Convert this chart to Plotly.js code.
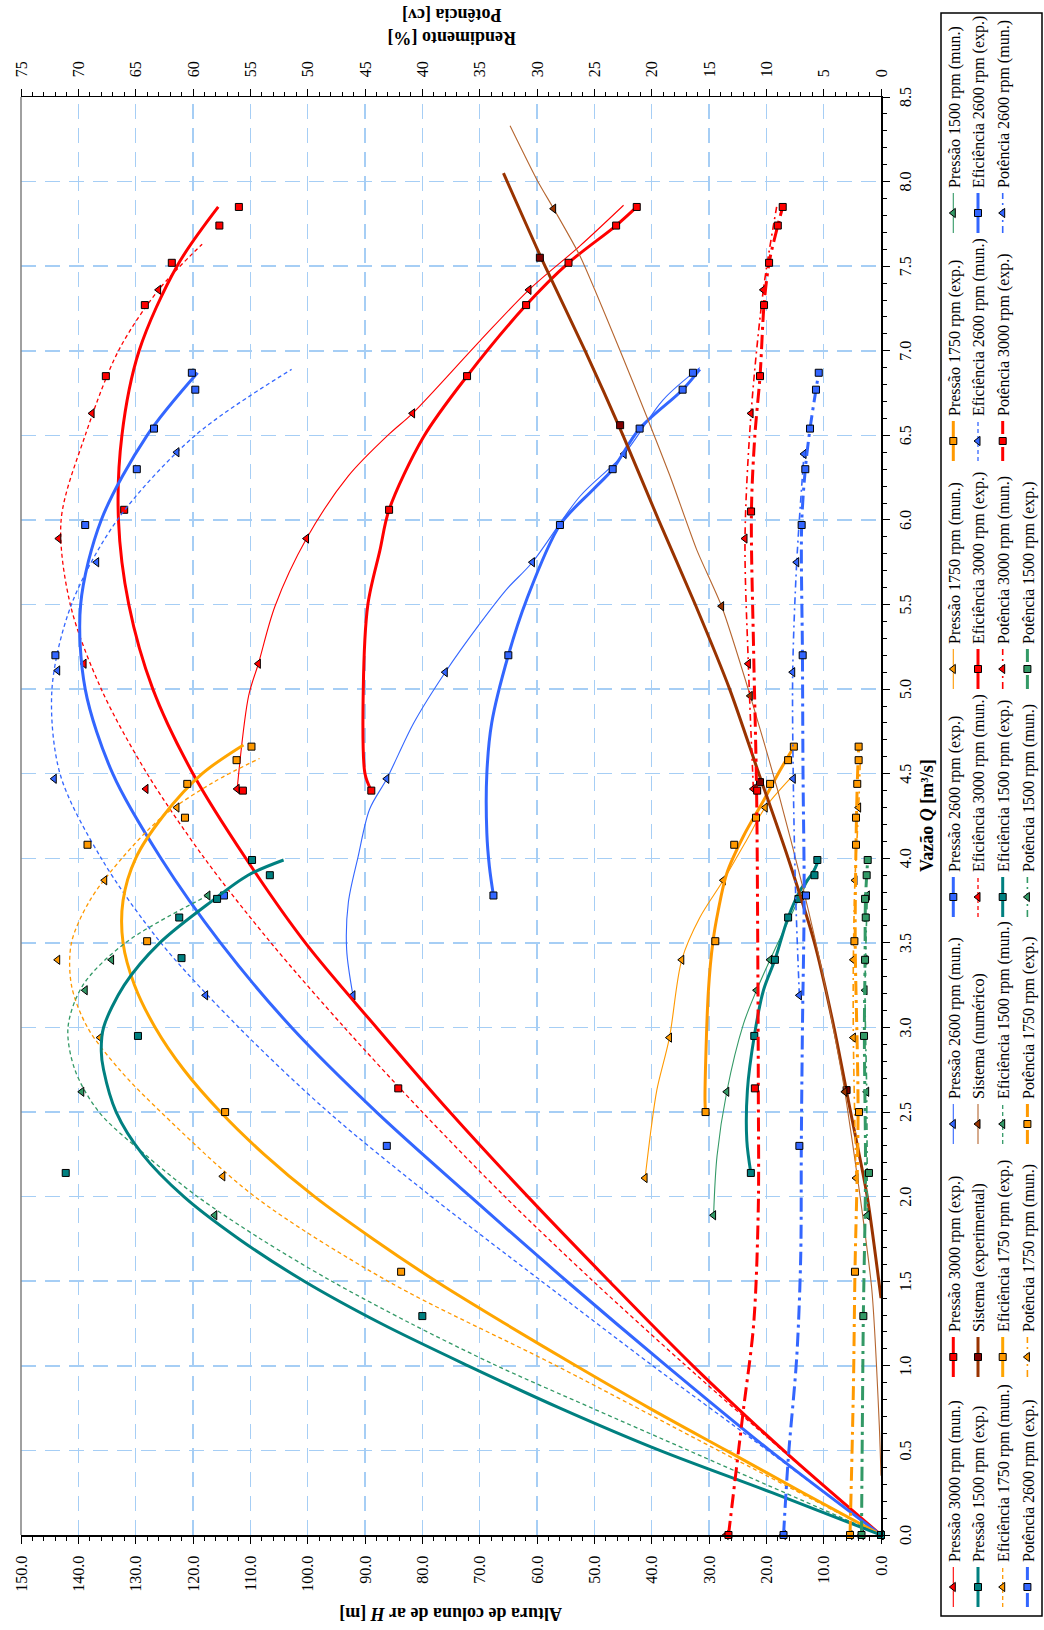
<!DOCTYPE html>
<html>
<head>
<meta charset="utf-8">
<script src="https://cdn.plot.ly/plotly-3.0.1.min.js"></script>
<style>
  html, body { margin: 0; padding: 0; background: #fff; overflow: hidden; width: 1044px; height: 1630px; }
  /* the chart is laid out in landscape and turned a quarter turn to stand upright */
  #chart { position: absolute; left: 0; top: 0; width: 1630px; height: 1044px;
           transform-origin: 0 0; transform: translate(0px, 1630px) rotate(-90deg); }
</style>
</head>
<body>
<div id="chart"></div>
<script>
// ---------------- Pressão (altura de coluna de ar H, m) ----------------
const Q_P3000M = [4.41, 5.15, 5.89, 6.63, 7.36];
const H_P3000M = [112.3, 108.6, 100.2, 81.7, 61.4];
const QF_P3000M = [4.41, 4.96, 5.15, 5.49, 5.89, 6.26, 6.51, 6.63, 7.06, 7.36, 7.62, 7.86];
const HF_P3000M = [112.3, 110.3, 108.6, 105.7, 100.2, 92.9, 85.7, 81.7, 69.9, 61.4, 52.5, 44.9];

const Q_P3000E = [4.40, 6.06, 6.85, 7.27, 7.52, 7.74, 7.85];
const H_P3000E = [88.9, 85.8, 72.2, 61.9, 54.5, 46.2, 42.6];
const QF_P3000E = [4.40, 4.50, 5.00, 5.50, 5.82, 6.06, 6.49, 6.85, 7.27, 7.52, 7.74, 7.85];
const HF_P3000E = [88.9, 90.0, 90.3, 89.5, 87.4, 85.8, 79.8, 72.2, 61.9, 54.5, 46.2, 42.6];

const Q_P2600M = [3.19, 4.47, 5.10, 5.75, 6.39];
const H_P2600M = [92.1, 86.2, 76.0, 60.8, 44.8];
const QF_P2600M = [3.19, 3.46, 3.74, 4.01, 4.29, 4.47, 4.80, 5.10, 5.39, 5.59, 5.75, 6.14, 6.39, 6.71, 6.90];
const HF_P2600M = [92.1, 93.2, 92.9, 91.2, 89.2, 86.2, 81.5, 76.0, 69.9, 65.3, 60.8, 52.5, 44.8, 38.0, 31.6];

const Q_P2600E = [3.78, 5.20, 5.97, 6.30, 6.54, 6.77, 6.87];
const H_P2600E = [67.6, 65.0, 56.0, 46.8, 42.1, 34.6, 32.8];
const QF_P2600E = [3.78, 3.95, 4.15, 4.50, 4.80, 5.20, 5.53, 5.97, 6.18, 6.30, 6.54, 6.77, 6.89];
const HF_P2600E = [67.6, 68.3, 68.75, 68.75, 67.9, 65.0, 61.8, 56.0, 50.2, 46.8, 42.1, 34.6, 31.6];

const Q_P1750M = [2.11, 2.94, 3.40, 3.87, 4.30];
const H_P1750M = [41.15, 36.9, 34.75, 27.5, 20.2];
const QF_P1750M = [2.11, 2.40, 2.63, 2.94, 3.40, 3.65, 3.87, 4.11, 4.30, 4.47];
const HF_P1750M = [41.15, 40.1, 39.1, 36.9, 34.75, 31.6, 27.5, 23.4, 20.2, 15.9];

const Q_P1750E = [2.50, 3.51, 4.08, 4.24, 4.44, 4.58, 4.66];
const H_P1750E = [30.6, 28.9, 25.6, 21.8, 19.35, 16.2, 15.2];
const QF_P1750E = [2.50, 2.57, 3.22, 3.51, 3.69, 3.91, 4.13, 4.34, 4.52, 4.67];
const HF_P1750E = [30.6, 30.7, 30.1, 29.3, 28.4, 26.9, 24.0, 20.5, 17.6, 15.0];

const Q_P1500M = [1.89, 2.62, 3.22, 3.40, 3.78];
const H_P1500M = [29.2, 26.9, 21.7, 19.35, 13.9];
const QF_P1500M = [1.89, 2.24, 2.62, 3.02, 3.22, 3.40, 3.69, 3.97];
const HF_P1500M = [29.2, 28.6, 26.9, 24.0, 21.7, 19.35, 15.3, 11.2];

const Q_P1500E = [2.14, 2.95, 3.40, 3.65, 3.76, 3.90, 3.99];
const H_P1500E = [22.7, 22.1, 18.5, 16.2, 14.4, 11.6, 11.1];
const QF_P1500E = [2.14, 2.33, 2.63, 2.95, 3.22, 3.40, 3.65, 3.81, 3.92, 3.99];
const HF_P1500E = [22.7, 23.4, 23.3, 22.1, 20.5, 18.5, 16.2, 14.1, 11.8, 10.9];

// ---------------- Sistema ----------------
const Q_SISE = [2.63, 4.45, 6.56, 7.55];
const H_SISE = [6.0, 21.1, 45.5, 59.5];
const QF_SISE = [1.40, 2.00, 2.50, 3.00, 3.50, 4.00, 4.50, 5.00, 5.50, 6.00, 6.50, 7.00, 7.50, 8.05];
const HF_SISE = [0.0, 2.4, 5.3, 8.2, 11.6, 16.2, 21.3, 26.4, 32.4, 38.8, 45.0, 51.6, 58.6, 65.85];

const Q_SISN = [2.62, 4.96, 5.49, 7.84];
const H_SISN = [6.3, 22.8, 27.8, 57.1];
const QF_SISN = [0.35, 0.65, 1.45, 2.04, 2.62, 2.83, 3.32, 3.81, 4.40, 4.96, 5.49, 5.82, 6.26, 6.61, 7.00, 7.56, 7.84, 8.01, 8.33];
const HF_SISN = [0.0, 0.3, 1.6, 3.8, 6.3, 7.4, 10.2, 13.5, 18.0, 22.8, 27.8, 32.1, 36.8, 40.85, 45.5, 52.5, 57.1, 60.0, 64.7];

// ---------------- Eficiência (%) ----------------
const Q_E3000M = [0, 4.41, 5.15, 5.89, 6.63, 7.36];
const E_E3000M = [0, 64.1, 69.5, 71.7, 68.8, 63.0];
const QF_E3000M = [0, 0.5, 1.0, 1.5, 2.0, 2.5, 3.0, 3.5, 4.0, 4.5, 5.0, 5.5, 6.0, 6.5, 7.0, 7.36, 7.63];
const EF_E3000M = [0, 8.6, 17.0, 25.1, 32.8, 40.0, 46.8, 53.2, 59.0, 64.0, 68.0, 70.7, 71.5, 69.4, 66.5, 63.0, 59.2];

const Q_E3000E = [0, 2.64, 4.40, 6.06, 6.85, 7.27, 7.52, 7.74, 7.85];
const E_E3000E = [0, 42.1, 55.65, 66.0, 67.6, 64.2, 61.85, 57.7, 56.0];
const QF_E3000E = [0, 0.5, 1.0, 1.5, 2.0, 2.5, 3.0, 3.5, 4.0, 4.5, 5.0, 5.5, 6.0, 6.5, 7.0, 7.5, 7.85];
const EF_E3000E = [0, 8.5, 16.4, 23.7, 30.8, 37.6, 44.0, 50.2, 55.4, 60.0, 63.5, 65.6, 66.5, 66.2, 64.7, 61.4, 57.8];

const Q_E2600M = [0, 3.19, 4.47, 5.11, 5.75, 6.40];
const E_E2600M = [0, 58.9, 72.1, 71.8, 68.4, 61.4];
const QF_E2600M = [0, 0.5, 1.0, 1.5, 2.0, 2.5, 3.0, 3.5, 4.0, 4.5, 5.0, 5.5, 6.0, 6.5, 6.89];
const EF_E2600M = [0, 9.9, 19.9, 29.6, 39.2, 48.2, 56.0, 62.8, 68.0, 71.6, 72.3, 70.6, 66.6, 59.8, 51.4];

const Q_E2600E = [0, 2.30, 3.78, 5.20, 5.97, 6.30, 6.54, 6.77, 6.87];
const E_E2600E = [0, 43.1, 57.3, 72.0, 69.4, 64.9, 63.4, 59.8, 60.1];
const QF_E2600E = [0, 0.5, 1.0, 1.5, 2.0, 2.5, 3.0, 3.5, 4.0, 4.5, 5.0, 5.5, 6.0, 6.5, 6.87];
const EF_E2600E = [0, 9.7, 18.7, 27.4, 35.8, 44.0, 51.4, 57.6, 62.8, 67.0, 69.4, 69.8, 68.0, 64.0, 59.6];

const Q_E1750M = [0, 2.12, 2.94, 3.40, 3.87, 4.30];
const E_E1750M = [0, 57.4, 68.1, 71.8, 67.7, 61.4];
const QF_E1750M = [0, 0.5, 1.0, 1.5, 2.0, 2.5, 2.75, 3.0, 3.25, 3.5, 3.75, 4.0, 4.25, 4.45, 4.59];
const EF_E1750M = [0, 14.2, 28.3, 43.0, 54.6, 62.8, 66.4, 69.2, 70.6, 70.6, 69.0, 66.2, 62.6, 58.2, 54.2];

const Q_E1750E = [0, 1.556, 2.50, 3.51, 4.08, 4.24, 4.44, 4.58, 4.66];
const E_E1750E = [0, 41.85, 57.2, 64.0, 69.2, 60.7, 60.5, 56.2, 54.9];
const QF_E1750E = [0, 0.25, 0.5, 0.75, 1.0, 1.25, 1.5, 1.75, 2.0, 2.25, 2.5, 2.75, 3.0, 3.25, 3.5, 3.75, 4.0, 4.25, 4.5, 4.67];
const EF_E1750E = [0, 6.8, 13.5, 20.2, 26.6, 32.8, 38.8, 44.3, 49.4, 53.8, 57.6, 60.8, 63.3, 65.1, 66.1, 66.1, 65.0, 62.6, 59.2, 55.6];

const Q_E1500M = [0, 1.89, 2.62, 3.22, 3.40, 3.78];
const E_E1500M = [0, 58.1, 69.7, 69.4, 67.1, 58.7];
const QF_E1500M = [0, 0.25, 0.5, 0.75, 1.0, 1.25, 1.5, 1.75, 2.0, 2.25, 2.5, 2.75, 3.0, 3.25, 3.5, 3.78];
const EF_E1500M = [0, 8.4, 16.8, 25.2, 33.5, 41.0, 47.9, 54.1, 59.6, 64.2, 68.2, 70.3, 70.9, 69.6, 65.9, 58.7];

const Q_E1500E = [0, 1.294, 2.14, 2.95, 3.41, 3.65, 3.76, 3.90, 3.99];
const E_E1500E = [0, 40.0, 71.1, 64.8, 61.0, 61.2, 57.9, 53.3, 54.85];
const QF_E1500E = [0, 0.25, 0.5, 0.75, 1.0, 1.25, 1.5, 1.75, 2.0, 2.25, 2.5, 2.75, 2.86, 3.0, 3.25, 3.5, 3.75, 3.9, 3.99];
const EF_E1500E = [0, 9.5, 19.3, 28.0, 36.0, 43.6, 50.3, 56.0, 60.8, 64.4, 66.7, 67.8, 68.0, 67.8, 66.0, 62.9, 58.3, 55.2, 52.1];

// ---------------- Potência (cv) ----------------
const Q_W3000M = [0, 4.41, 5.15, 5.89, 6.63, 7.36];
const P_W3000M = [13.5, 11.13, 11.57, 11.86, 11.33, 10.26];
const QF_W3000M = [4.41, 5.15, 5.89, 6.63, 7.36, 7.85];
const PF_W3000M = [11.13, 11.57, 11.86, 11.33, 10.26, 9.1];

const Q_W3000E = [0, 2.64, 4.40, 6.05, 6.85, 7.27, 7.52, 7.74, 7.85];
const P_W3000E = [13.3, 11.0, 10.8, 11.33, 10.55, 10.2, 9.76, 9.0, 8.57];
const QF_W3000E = [0, 0.74, 1.25, 1.94, 2.64, 3.5, 4.40, 5.2, 6.05, 6.5, 6.85, 7.27, 7.52, 7.74, 7.85];
const PF_W3000E = [13.3, 12.0, 11.1, 10.7, 10.7, 10.75, 10.85, 11.1, 11.3, 11.0, 10.55, 10.2, 9.76, 9.0, 8.57];

const Q_W2600M = [0, 3.19, 4.47, 5.10, 5.75, 6.39];
const P_W2600M = [8.5, 7.12, 7.65, 7.70, 7.35, 6.71];
const QF_W2600M = [3.19, 3.8, 4.47, 5.10, 5.75, 6.39];
const PF_W2600M = [7.12, 7.45, 7.65, 7.70, 7.35, 6.71];

const Q_W2600E = [0, 2.30, 3.78, 5.20, 5.97, 6.30, 6.54, 6.77, 6.87];
const P_W2600E = [8.5, 7.12, 6.54, 6.83, 6.92, 6.6, 6.19, 5.67, 5.43];
const QF_W2600E = [0, 0.46, 1.05, 1.65, 2.30, 3.0, 3.78, 4.5, 5.20, 5.97, 6.30, 6.54, 6.77, 6.87];
const PF_W2600E = [8.5, 8.08, 7.35, 7.0, 6.95, 6.85, 6.7, 6.8, 6.85, 6.92, 6.6, 6.19, 5.67, 5.43];

const Q_W1750M = [0, 2.11, 2.94, 3.40, 3.87, 4.30];
const P_W1750M = [2.7, 2.18, 2.41, 2.41, 2.27, 1.95];
const QF_W1750M = [2.11, 2.94, 3.40, 3.87, 4.30, 4.60];
const PF_W1750M = [2.18, 2.41, 2.41, 2.27, 1.95, 1.8];

const Q_W1750E = [0, 1.556, 2.50, 3.51, 4.08, 4.24, 4.44, 4.58, 4.66];
const P_W1750E = [2.70, 2.27, 1.92, 2.32, 2.18, 2.18, 2.07, 1.95, 1.95];
const QF_W1750E = [0, 0.86, 1.556, 2.50, 3.51, 4.08, 4.44, 4.66];
const PF_W1750E = [2.70, 2.41, 2.27, 2.0, 2.25, 2.18, 2.07, 1.95];

const Q_W1500M = [0, 1.89, 2.62, 3.22, 3.40, 3.78];
const P_W1500M = [1.7, 1.19, 1.25, 1.39, 1.39, 1.19];
const QF_W1500M = [1.89, 2.62, 3.22, 3.78];
const PF_W1500M = [1.19, 1.25, 1.39, 1.19];

const Q_W1500E = [0, 1.294, 2.14, 2.95, 3.40, 3.65, 3.76, 3.90, 3.99];
const P_W1500E = [1.70, 1.54, 1.05, 1.48, 1.39, 1.33, 1.39, 1.25, 1.16];
const QF_W1500E = [0, 0.7, 1.294, 2.14, 2.95, 3.40, 3.76, 3.99];
const PF_W1500E = [1.70, 1.62, 1.54, 1.35, 1.45, 1.39, 1.35, 1.16];

// ---------------- axis ticks ----------------
const Q_TICK_STEP = 0.5;
const H_TICK_STEP = 10;
const W_TICK_STEP = 5;

// ---------------- styling ----------------
const RED = '#FF0000', BLUE = '#3366FF', ORANGE = '#FF9900', AMBER = '#FFA500',
      TEAL = '#008080', GREEN = '#339966', BROWN = '#993300', LBROWN = '#B5652F', DRED = '#800000';
const SERIF = "'Liberation Serif', 'Times New Roman', serif";

const THIN = { width: 1.1, dash: 'solid' };
const THICK = { width: 3, dash: 'solid' };
const DASHED = { width: 1.3, dash: '4px,3px' };
const DASHDOT = { width: 1.6, dash: '7px,4px,2px,4px' };
const LONGDASH = { width: 3, dash: '14px,5px,3px,5px' };

// series in legend order (read row by row)
const SERIES = [
  { name: 'Pressão 3000 rpm (mun.)', q: Q_P3000M, v: H_P3000M, qf: QF_P3000M, vf: HF_P3000M, ax: 'y', color: RED, mcolor: RED, ln: THIN, sym: 'triangle-up' },
  { name: 'Pressão 3000 rpm (exp.)', q: Q_P3000E, v: H_P3000E, qf: QF_P3000E, vf: HF_P3000E, ax: 'y', color: RED, mcolor: RED, ln: THICK, sym: 'square' },
  { name: 'Pressão 2600 rpm (mun.)', q: Q_P2600M, v: H_P2600M, qf: QF_P2600M, vf: HF_P2600M, ax: 'y', color: BLUE, mcolor: BLUE, ln: THIN, sym: 'triangle-up' },
  { name: 'Pressão 2600 rpm (exp.)', q: Q_P2600E, v: H_P2600E, qf: QF_P2600E, vf: HF_P2600E, ax: 'y', color: BLUE, mcolor: BLUE, ln: THICK, sym: 'square' },
  { name: 'Pressão 1750 rpm (mun.)', q: Q_P1750M, v: H_P1750M, qf: QF_P1750M, vf: HF_P1750M, ax: 'y', color: ORANGE, mcolor: ORANGE, ln: THIN, sym: 'triangle-up' },
  { name: 'Pressão 1750 rpm (exp.)', q: Q_P1750E, v: H_P1750E, qf: QF_P1750E, vf: HF_P1750E, ax: 'y', color: ORANGE, mcolor: ORANGE, ln: THICK, sym: 'square' },
  { name: 'Pressão 1500 rpm (mun.)', q: Q_P1500M, v: H_P1500M, qf: QF_P1500M, vf: HF_P1500M, ax: 'y', color: GREEN, mcolor: GREEN, ln: THIN, sym: 'triangle-up' },
  { name: 'Pressão 1500 rpm (exp.)', q: Q_P1500E, v: H_P1500E, qf: QF_P1500E, vf: HF_P1500E, ax: 'y', color: TEAL, mcolor: TEAL, ln: THICK, sym: 'square' },
  { name: 'Sistema (experimental)', q: Q_SISE, v: H_SISE, qf: QF_SISE, vf: HF_SISE, ax: 'y', color: BROWN, mcolor: DRED, ln: THICK, sym: 'square', smooth: 0.7 },
  { name: 'Sistema (numérico)', q: Q_SISN, v: H_SISN, qf: QF_SISN, vf: HF_SISN, ax: 'y', color: LBROWN, mcolor: BROWN, ln: THIN, sym: 'triangle-up', smooth: 0.6 },
  { name: 'Eficiência 3000 rpm (mun.)', q: Q_E3000M, v: E_E3000M, qf: QF_E3000M, vf: EF_E3000M, ax: 'y2', color: RED, mcolor: RED, ln: DASHED, sym: 'triangle-up' },
  { name: 'Eficiência 3000 rpm (exp.)', q: Q_E3000E, v: E_E3000E, qf: QF_E3000E, vf: EF_E3000E, ax: 'y2', color: RED, mcolor: RED, ln: THICK, sym: 'square' },
  { name: 'Eficiência 2600 rpm (mun.)', q: Q_E2600M, v: E_E2600M, qf: QF_E2600M, vf: EF_E2600M, ax: 'y2', color: BLUE, mcolor: BLUE, ln: DASHED, sym: 'triangle-up' },
  { name: 'Eficiência 2600 rpm (exp.)', q: Q_E2600E, v: E_E2600E, qf: QF_E2600E, vf: EF_E2600E, ax: 'y2', color: BLUE, mcolor: BLUE, ln: THICK, sym: 'square' },
  { name: 'Eficiência 1750 rpm (mun.)', q: Q_E1750M, v: E_E1750M, qf: QF_E1750M, vf: EF_E1750M, ax: 'y2', color: ORANGE, mcolor: ORANGE, ln: DASHED, sym: 'triangle-up' },
  { name: 'Eficiência 1750 rpm (exp.)', q: Q_E1750E, v: E_E1750E, qf: QF_E1750E, vf: EF_E1750E, ax: 'y2', color: AMBER, mcolor: ORANGE, ln: THICK, sym: 'square' },
  { name: 'Eficiência 1500 rpm (mun.)', q: Q_E1500M, v: E_E1500M, qf: QF_E1500M, vf: EF_E1500M, ax: 'y2', color: GREEN, mcolor: GREEN, ln: DASHED, sym: 'triangle-up' },
  { name: 'Eficiência 1500 rpm (exp.)', q: Q_E1500E, v: E_E1500E, qf: QF_E1500E, vf: EF_E1500E, ax: 'y2', color: TEAL, mcolor: TEAL, ln: THICK, sym: 'square' },
  { name: 'Potência 3000 rpm (mun.)', q: Q_W3000M, v: P_W3000M, qf: QF_W3000M, vf: PF_W3000M, ax: 'y2', color: RED, mcolor: RED, ln: DASHDOT, sym: 'triangle-up' },
  { name: 'Potência 3000 rpm (exp.)', q: Q_W3000E, v: P_W3000E, qf: QF_W3000E, vf: PF_W3000E, ax: 'y2', color: RED, mcolor: RED, ln: LONGDASH, sym: 'square' },
  { name: 'Potência 2600 rpm (mun.)', q: Q_W2600M, v: P_W2600M, qf: QF_W2600M, vf: PF_W2600M, ax: 'y2', color: BLUE, mcolor: BLUE, ln: DASHDOT, sym: 'triangle-up' },
  { name: 'Potência 2600 rpm (exp.)', q: Q_W2600E, v: P_W2600E, qf: QF_W2600E, vf: PF_W2600E, ax: 'y2', color: BLUE, mcolor: BLUE, ln: LONGDASH, sym: 'square' },
  { name: 'Potência 1750 rpm (mun.)', q: Q_W1750M, v: P_W1750M, qf: QF_W1750M, vf: PF_W1750M, ax: 'y2', color: ORANGE, mcolor: ORANGE, ln: DASHDOT, sym: 'triangle-up' },
  { name: 'Potência 1750 rpm (exp.)', q: Q_W1750E, v: P_W1750E, qf: QF_W1750E, vf: PF_W1750E, ax: 'y2', color: ORANGE, mcolor: ORANGE, ln: LONGDASH, sym: 'square' },
  { name: 'Potência 1500 rpm (mun.)', q: Q_W1500M, v: P_W1500M, qf: QF_W1500M, vf: PF_W1500M, ax: 'y2', color: GREEN, mcolor: GREEN, ln: DASHDOT, sym: 'triangle-up' },
  { name: 'Potência 1500 rpm (exp.)', q: Q_W1500E, v: P_W1500E, qf: QF_W1500E, vf: PF_W1500E, ax: 'y2', color: GREEN, mcolor: GREEN, ln: LONGDASH, sym: 'square' }
];

// separate each reading with a gap so the marker trace shows no connecting segments
function isolate(q, v) {
  const xs = [], ys = [];
  q.forEach((x, i) => {
    if (i > 0) { xs.push(null); ys.push(null); }
    xs.push(x); ys.push(v[i]);
  });
  return { xs, ys };
}

const LEGEND_COLS = 7;
const traces = [];
SERIES.forEach((s, i) => {
  const col = i % LEGEND_COLS;
  const legendId = col === 0 ? 'legend' : 'legend' + (col + 1);
  const group = 'g' + i;
  traces.push({
    type: 'scatter', mode: 'lines', x: s.qf, y: s.vf, yaxis: s.ax, xaxis: 'x',
    line: { color: s.color, width: s.ln.width, dash: s.ln.dash, shape: 'spline', smoothing: s.smooth || 0.9 },
    showlegend: false, legendgroup: group, legend: legendId, hoverinfo: 'skip'
  });
  const p = isolate(s.q, s.v);
  traces.push({
    type: 'scatter', mode: 'lines+markers', x: p.xs, y: p.ys, yaxis: s.ax, xaxis: 'x',
    name: s.name, connectgaps: false, cliponaxis: false,
    line: { color: s.color, width: s.ln.width, dash: s.ln.dash },
    marker: { symbol: s.sym, size: s.sym === 'square' ? 7 : 8, color: s.mcolor, line: { color: '#000', width: 1 } },
    showlegend: true, legendgroup: group, legend: legendId, hoverinfo: 'skip'
  });
});

// plot-area geometry (pixels in the landscape frame)
const W = 1630, HGT = 1044;
const M = { l: 95, r: 97, t: 21, b: 163 };
const PW = W - M.l - M.r, PH = HGT - M.t - M.b;
const px = v => (v - M.l) / PW;          // horizontal pixel -> paper
const py = v => 1 - (v - M.t) / PH;      // vertical pixel -> paper

const legendFont = { family: SERIF, size: 16, color: '#000' };
const titleFont = { family: SERIF, size: 18, color: '#000' };
const tickFont = { family: SERIF, size: 16, color: '#000' };
const colCenters = [43, 273, 506, 733, 961, 1189, 1417];
const layout = {
  width: W, height: HGT,
  margin: { l: M.l, r: M.r, t: M.t, b: M.b, autoexpand: false },
  paper_bgcolor: '#fff', plot_bgcolor: '#fff',
  hovermode: false,
  font: { family: SERIF, size: 16, color: '#000' },
  xaxis: {
    range: [0, 8.5], tick0: 0, dtick: Q_TICK_STEP, tickformat: '.1f',
    ticks: 'outside', ticklen: 7, tickwidth: 1, tickcolor: '#000', ticklabelstandoff: 2,
    minor: { dtick: 0.1, ticks: 'outside', ticklen: 4, tickcolor: '#000', showgrid: false },
    showline: true, linecolor: '#000', linewidth: 1.5,
    showgrid: true, gridcolor: '#A6CEF5', gridwidth: 1.5, griddash: '15px,9px',
    zeroline: false, tickfont: tickFont, fixedrange: true
  },
  yaxis: {
    range: [0, 150], tick0: 0, dtick: H_TICK_STEP, tickformat: '.1f',
    ticks: 'outside', ticklen: 7, tickwidth: 1, tickcolor: '#000', ticklabelstandoff: 9,
    minor: { dtick: 2, ticks: 'outside', ticklen: 4, tickcolor: '#000', showgrid: false },
    showline: true, linecolor: '#000', linewidth: 1.5,
    showgrid: true, gridcolor: '#A6CEF5', gridwidth: 1.5, griddash: '15px,9px',
    zeroline: false, tickfont: tickFont, fixedrange: true
  },
  yaxis2: {
    overlaying: 'y', side: 'right', anchor: 'x',
    range: [0, 75], tick0: 0, dtick: W_TICK_STEP, tickformat: 'd',
    ticks: 'outside', ticklen: 7, tickwidth: 1, tickcolor: '#000', ticklabelstandoff: 8,
    minor: { dtick: 1, ticks: 'outside', ticklen: 4, tickcolor: '#000', showgrid: false },
    showline: true, linecolor: '#000', linewidth: 1.5,
    showgrid: false, zeroline: false,
    tickfont: tickFont, fixedrange: true
  },
  annotations: [
    { text: '<b>Vazão <i>Q</i> [m³/s]</b>', xref: 'paper', yref: 'paper', x: 0.5, y: py(927),
      xanchor: 'center', yanchor: 'middle', showarrow: false, font: titleFont },
    { text: '<b>Altura de coluna de ar <i>H</i> [m]</b>', xref: 'paper', yref: 'paper', x: px(16), y: 0.5,
      xanchor: 'center', yanchor: 'middle', textangle: -90, showarrow: false, font: titleFont },
    { text: '<b>Rendimento [%]<br>Potência [cv]</b>', xref: 'paper', yref: 'paper', x: px(1603), y: 0.5,
      xanchor: 'center', yanchor: 'middle', textangle: -90, showarrow: false, font: titleFont }
  ],
  shapes: [
    { type: 'line', xref: 'paper', yref: 'paper', x0: 0, x1: 1, y0: 1, y1: 1, line: { color: '#808080', width: 1.5 } },
    { type: 'rect', xref: 'paper', yref: 'paper', x0: px(14), x1: px(1617), y0: py(941), y1: py(1042),
      line: { color: '#000', width: 1.5 }, fillcolor: 'rgba(0,0,0,0)' }
  ]
};

colCenters.forEach((c, k) => {
  const id = k === 0 ? 'legend' : 'legend' + (k + 1);
  layout[id] = {
    x: px(c - 25), y: py(936.4), xanchor: 'left', yanchor: 'top', orientation: 'v',
    bgcolor: 'rgba(0,0,0,0)', borderwidth: 0, font: legendFont,
    itemwidth: 40, tracegroupgap: 0.9, traceorder: 'grouped', itemclick: false, itemdoubleclick: false
  };
});

Plotly.newPlot('chart', traces, layout, { displayModeBar: false, staticPlot: true });
</script>
</body>
</html>
